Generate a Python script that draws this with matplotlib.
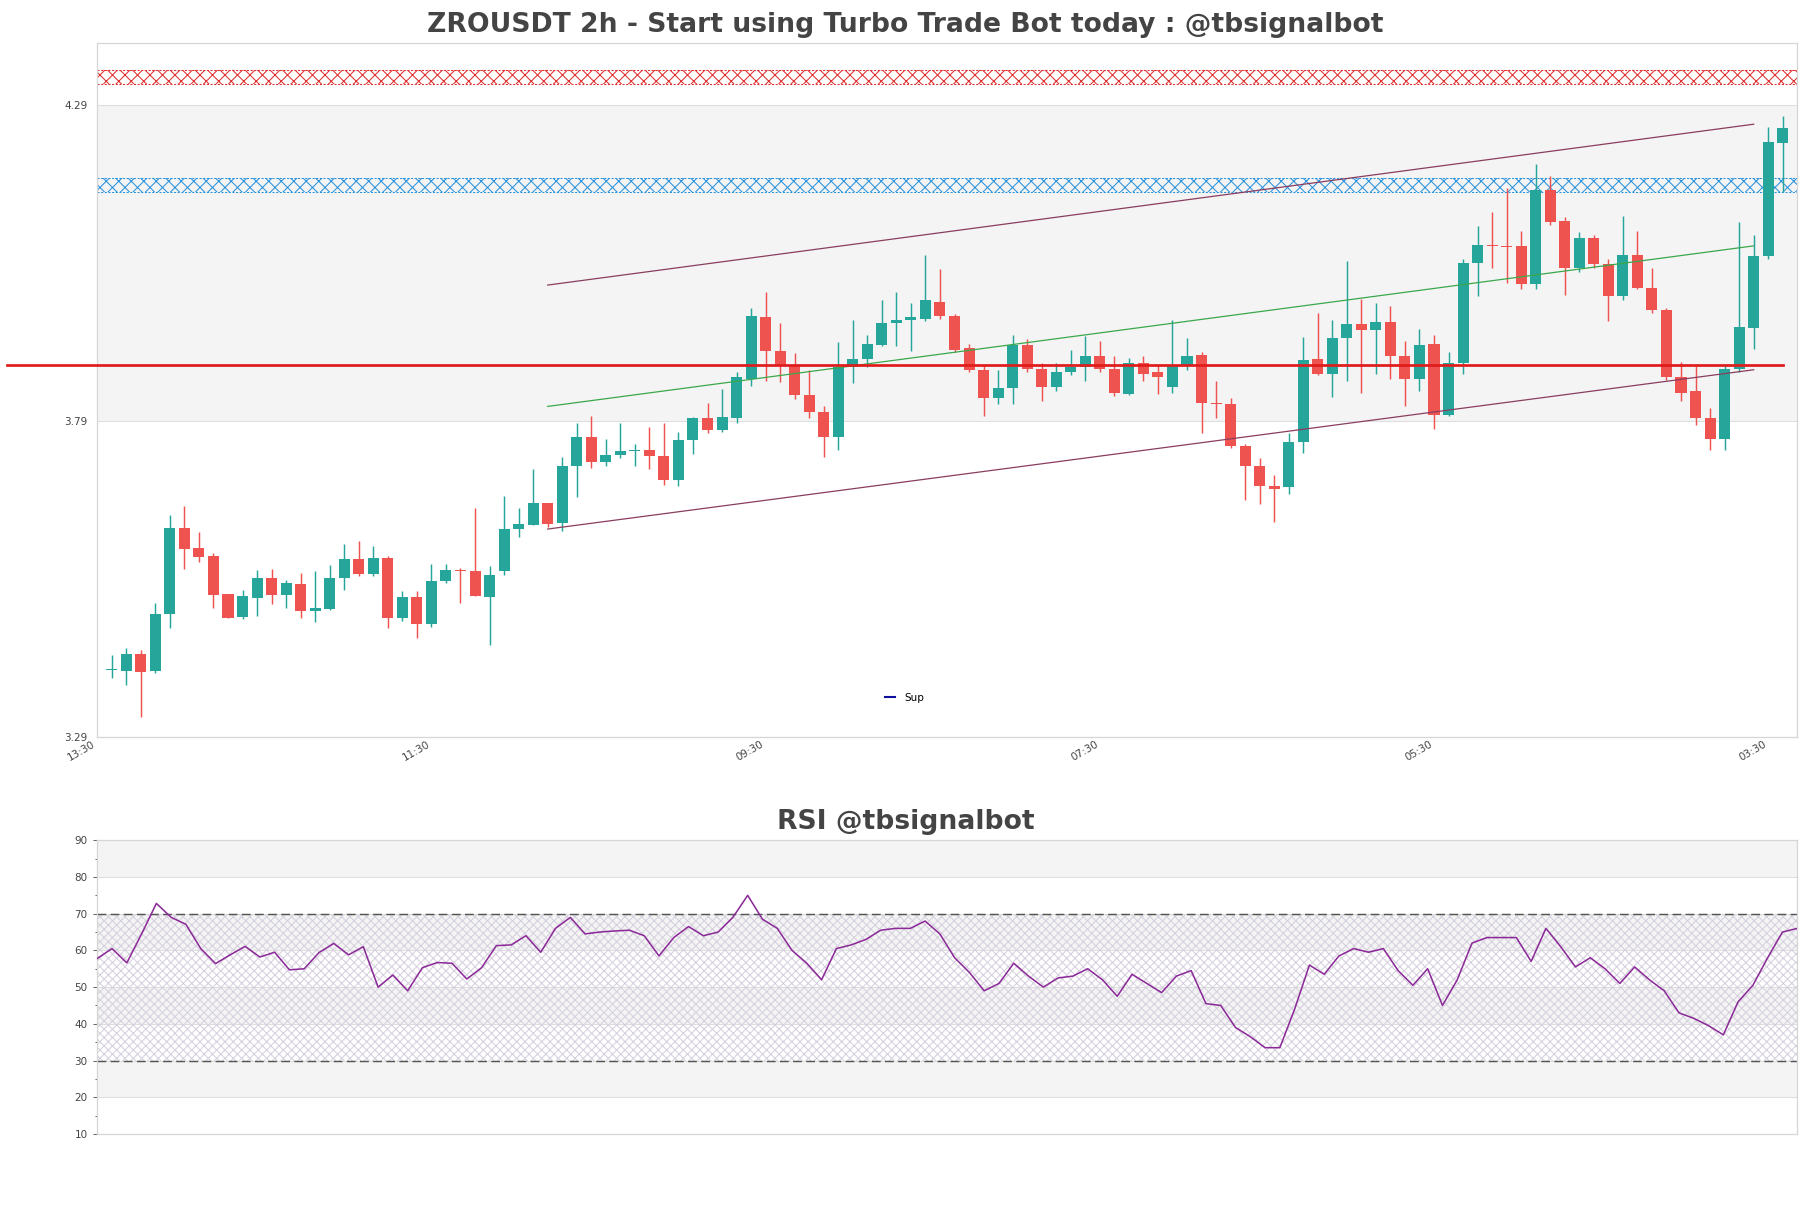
import matplotlib
matplotlib.use("Agg")
import matplotlib.pyplot as plt
import numpy as np

plt.rcParams["font.family"] = ["DejaVu Sans"]
plt.rcParams["hatch.linewidth"] = 0.5

# 2h candles, oldest first
opens = [3.396, 3.395, 3.421, 3.395, 3.484, 3.621, 3.589, 3.576, 3.516, 3.480,
         3.510, 3.542, 3.515, 3.532, 3.490, 3.493, 3.542, 3.572, 3.548, 3.573,
         3.478, 3.511, 3.468, 3.537, 3.555, 3.553, 3.511, 3.552, 3.619, 3.625,
         3.661, 3.628, 3.718, 3.765, 3.725, 3.736, 3.742, 3.744, 3.734, 3.696,
         3.760, 3.795, 3.776, 3.795, 3.857, 3.954, 3.901, 3.879, 3.831, 3.804,
         3.764, 3.875, 3.888, 3.910, 3.945, 3.950, 3.952, 3.979, 3.956, 3.906,
         3.871, 3.826, 3.842, 3.910, 3.873, 3.844, 3.868, 3.875, 3.892, 3.873,
         3.833, 3.882, 3.868, 3.844, 3.879, 3.895, 3.818, 3.817, 3.751, 3.718,
         3.687, 3.685, 3.756, 3.888, 3.864, 3.921, 3.943, 3.934, 3.946, 3.892,
         3.857, 3.912, 3.800, 3.882, 4.040, 4.069, 4.067, 4.067, 4.007, 4.155,
         4.107, 4.032, 4.080, 4.038, 3.987, 4.052, 4.001, 3.965, 3.860, 3.837,
         3.795, 3.762, 3.873, 3.937, 4.051, 4.230]
highs = [3.419, 3.431, 3.428, 3.502, 3.641, 3.656, 3.615, 3.581, 3.516, 3.523,
         3.554, 3.556, 3.538, 3.549, 3.553, 3.562, 3.595, 3.600, 3.592, 3.576,
         3.521, 3.521, 3.564, 3.564, 3.557, 3.652, 3.561, 3.672, 3.652, 3.714,
         3.661, 3.733, 3.786, 3.798, 3.762, 3.787, 3.753, 3.780, 3.786, 3.773,
         3.797, 3.818, 3.840, 3.868, 3.968, 3.994, 3.945, 3.897, 3.871, 3.813,
         3.915, 3.950, 3.926, 3.981, 3.994, 3.976, 4.052, 4.030, 3.959, 3.912,
         3.879, 3.871, 3.926, 3.919, 3.881, 3.881, 3.903, 3.925, 3.917, 3.893,
         3.890, 3.893, 3.879, 3.950, 3.921, 3.899, 3.853, 3.826, 3.754, 3.731,
         3.705, 3.771, 3.923, 3.961, 3.950, 4.043, 3.983, 3.976, 3.972, 3.917,
         3.935, 3.926, 3.899, 4.047, 4.098, 4.120, 4.158, 4.091, 4.197, 4.177,
         4.113, 4.089, 4.085, 4.047, 4.115, 4.091, 4.032, 3.968, 3.884, 3.877,
         3.811, 3.877, 4.104, 4.085, 4.255, 4.272]
lows = [3.384, 3.373, 3.322, 3.392, 3.463, 3.556, 3.567, 3.494, 3.479, 3.476,
        3.482, 3.501, 3.494, 3.479, 3.472, 3.491, 3.523, 3.545, 3.544, 3.463,
        3.474, 3.446, 3.464, 3.533, 3.502, 3.513, 3.436, 3.546, 3.606, 3.625,
        3.623, 3.616, 3.670, 3.716, 3.718, 3.731, 3.718, 3.714, 3.689, 3.687,
        3.738, 3.771, 3.773, 3.786, 3.846, 3.853, 3.851, 3.824, 3.795, 3.733,
        3.744, 3.850, 3.875, 3.908, 3.908, 3.901, 3.948, 3.952, 3.899, 3.868,
        3.798, 3.817, 3.817, 3.868, 3.822, 3.838, 3.862, 3.853, 3.868, 3.829,
        3.831, 3.853, 3.833, 3.835, 3.871, 3.771, 3.795, 3.747, 3.665, 3.658,
        3.630, 3.674, 3.740, 3.862, 3.828, 3.853, 3.835, 3.864, 3.857, 3.813,
        3.838, 3.778, 3.798, 3.864, 3.987, 4.032, 4.009, 3.998, 3.999, 4.100,
        3.990, 4.025, 4.032, 3.948, 3.981, 3.999, 3.961, 3.855, 3.822, 3.784,
        3.744, 3.744, 3.868, 3.904, 4.047, 4.153]
closes = [3.396, 3.421, 3.393, 3.485, 3.621, 3.588, 3.574, 3.515, 3.479, 3.513,
          3.542, 3.515, 3.534, 3.490, 3.494, 3.542, 3.572, 3.548, 3.573, 3.478,
          3.511, 3.469, 3.537, 3.555, 3.552, 3.513, 3.546, 3.619, 3.627, 3.661,
          3.627, 3.718, 3.765, 3.725, 3.736, 3.742, 3.744, 3.734, 3.696, 3.760,
          3.795, 3.776, 3.797, 3.860, 3.956, 3.901, 3.879, 3.831, 3.804, 3.764,
          3.875, 3.888, 3.912, 3.945, 3.950, 3.954, 3.981, 3.956, 3.903, 3.871,
          3.826, 3.842, 3.910, 3.873, 3.844, 3.868, 3.875, 3.893, 3.873, 3.835,
          3.882, 3.864, 3.860, 3.879, 3.893, 3.818, 3.817, 3.751, 3.718, 3.687,
          3.683, 3.756, 3.886, 3.864, 3.921, 3.943, 3.934, 3.946, 3.892, 3.857,
          3.910, 3.800, 3.882, 4.040, 4.069, 4.067, 4.065, 4.007, 4.155, 4.105,
          4.032, 4.080, 4.038, 3.987, 4.052, 4.001, 3.965, 3.860, 3.835, 3.795,
          3.762, 3.873, 3.939, 4.051, 4.232, 4.254]

rsi = [57.8, 60.5, 56.6, 64.5, 72.8, 69.0, 67.1, 60.5, 56.4, 58.8,
       61.1, 58.2, 59.5, 54.7, 55.0, 59.4, 61.9, 58.8, 61.0, 50.0,
       53.3, 49.0, 55.3, 56.7, 56.5, 52.2, 55.3, 61.3, 61.5, 64.0,
       59.5, 66.0, 69.0, 64.5, 65.0, 65.3, 65.5, 64.0, 58.5, 63.5,
       66.5, 64.0, 65.0, 69.0, 75.0, 68.5, 66.0, 60.0, 56.5, 52.0,
       60.5, 61.5, 63.0, 65.5, 66.0, 66.0, 68.0, 64.5, 58.0, 54.0,
       49.0, 51.0, 56.5, 53.0, 50.0, 52.5, 53.0, 55.0, 52.0, 47.5,
       53.5, 51.0, 48.5, 53.0, 54.5, 45.5, 45.0, 39.0, 36.5, 33.5,
       33.5, 44.0, 56.0, 53.5, 58.5, 60.5, 59.5, 60.5, 54.5, 50.5,
       55.0, 45.0, 52.0, 62.0, 63.5, 63.5, 63.5, 57.0, 66.0, 61.0,
       55.5, 58.0, 55.0, 51.0, 55.5, 52.0, 49.0, 43.0, 41.5, 39.5,
       37.0, 46.0, 50.5, 58.0, 65.0, 66.0]

tick_labels = ["13:30", "11:30", "09:30", "07:30", "05:30", "03:30"]
tick_every = 23

price_ticks = [3.29, 3.79, 4.29]
price_top = 4.3876
rsi_ticks = [10, 20, 30, 40, 50, 60, 70, 80, 90]

resistance_zone = (4.323, 4.345)
upper_zone = (4.152, 4.174)
support_level = 3.879
support_start = -7.2

channel_x = [30, 113]
channel_upper = [4.005, 4.2595]
channel_lower = [3.619, 3.871]
channel_mid = [3.813, 4.067]

UP = "#26a69a"
DOWN = "#ef5350"
TEXT = "#444444"
BAND = "#f4f4f4"
GRID = "#dedede"
SPINE = "#d6d6d6"
TITLE_X = 0.4754  # figure centre in axes units


def striped(ax, ticks, top):
    edges = list(ticks) + [top]
    for k in range(len(edges) - 1):
        if k % 2 == 1:
            ax.axhspan(edges[k], edges[k + 1], color=BAND, lw=0, zorder=0)
    for t in ticks:
        ax.axhline(t, color=GRID, lw=0.5, zorder=0.5)
    for s in ax.spines.values():
        s.set_color(SPINE)
        s.set_linewidth(0.6)


def zone(ax, lo, hi, color):
    ax.axhspan(lo, hi, facecolor="none", edgecolor=color, hatch="xxxx",
               lw=0, zorder=1)
    for v in (lo, hi):
        ax.axhline(v, color=color, lw=0.5, ls=(0, (2, 1.5)), zorder=1)


fig = plt.figure(figsize=(1811 / 150, 1208 / 150), dpi=150)
ax = fig.add_axes([0.0537, 0.3899, 0.9387, 0.5743])
ax_rsi = fig.add_axes([0.0537, 0.0613, 0.9387, 0.2431])

n = len(opens)
x = np.arange(n)
o = np.array(opens)
h = np.array(highs)
l = np.array(lows)
c = np.array(closes)
up = c >= o
colors = np.where(up, UP, DOWN)

# ---- price panel
striped(ax, price_ticks, price_top)
zone(ax, *resistance_zone, "#e03030")
zone(ax, *upper_zone, "#2a93dd")

ax.vlines(x, l, h, colors=colors, lw=0.7, zorder=2)
body = np.maximum(np.abs(c - o), 0.0015)
ax.bar(x, body, bottom=np.minimum(o, c), width=0.76, color=colors,
       lw=0, zorder=3)

ax.plot(channel_x, channel_upper, color="#8a3d5e", lw=0.6, zorder=4)
ax.plot(channel_x, channel_lower, color="#8a3d5e", lw=0.6, zorder=4)
ax.plot(channel_x, channel_mid, color="#3aa84a", lw=0.6, zorder=4)

ax.plot([support_start, n - 1], [support_level, support_level],
        color="#e01b1b", lw=1.3, zorder=5, clip_on=False)
ax.plot([], [], color="#1010a0", lw=1.0, label="Sup")
ax.legend(loc="center left", bbox_to_anchor=(0.4634, 0.0567), frameon=False,
          fontsize=5, handlelength=1.0, handletextpad=0.85, borderpad=0,
          borderaxespad=0)

ax.set_xlim(-1, n)
ax.set_ylim(price_ticks[0], price_top)
ax.set_yticks(price_ticks)
ax.set_yticklabels([f"{t:.2f}" for t in price_ticks])
ax.set_xticks(list(range(-1, n, tick_every)))
ax.set_xticklabels(tick_labels, rotation=30, ha="right")
ax.tick_params(axis="both", length=0, labelsize=5, labelcolor=TEXT)
ax.tick_params(axis="y", pad=4.6)
ax.tick_params(axis="x", pad=1)
ax.set_title("ZROUSDT 2h - Start using Turbo Trade Bot today : @tbsignalbot",
             fontsize=12.75, fontweight="bold", color=TEXT, pad=5.5,
             x=TITLE_X)

# ---- RSI panel
xr = np.arange(len(rsi))
striped(ax_rsi, rsi_ticks, rsi_ticks[-1])
ax_rsi.fill_between(xr, 30, 70, facecolor="none", edgecolor="#d6d0de",
                    hatch="xxxxxx", lw=0, zorder=1)
ax_rsi.axhline(70, color="#555555", lw=0.7, ls=(0, (6, 3)), zorder=2)
ax_rsi.axhline(30, color="#555555", lw=0.7, ls=(0, (6, 3)), zorder=2)
ax_rsi.plot(xr, rsi, color="#8b2a98", lw=0.75, zorder=3)

ax_rsi.set_xlim(0, len(rsi) - 1)
ax_rsi.set_ylim(rsi_ticks[0], rsi_ticks[-1])
ax_rsi.set_yticks(rsi_ticks)
ax_rsi.set_yticks(np.arange(15, 90, 10), minor=True)
ax_rsi.set_xticks([])
ax_rsi.tick_params(axis="y", which="major", length=2, width=0.5,
                   color="#666666", labelsize=5, labelcolor=TEXT, pad=2.6)
ax_rsi.tick_params(axis="y", which="minor", length=1, width=0.5,
                   color="#666666")
ax_rsi.set_title("RSI @tbsignalbot", fontsize=12.75, fontweight="bold",
                 color=TEXT, pad=5.5, x=TITLE_X)

fig.savefig("out.png", dpi=150)
